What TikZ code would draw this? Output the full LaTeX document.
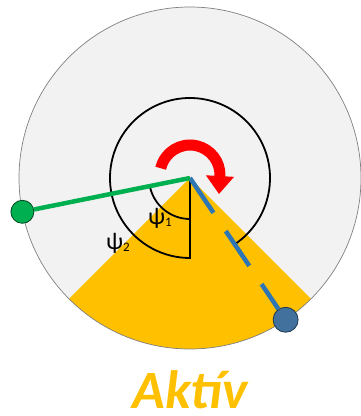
\documentclass[tikz,border=0pt]{standalone}
\usepackage{fontspec}
\setmainfont{Carlito}
\usepackage{tikz}
\usetikzlibrary{arrows.meta}
\usetikzlibrary{calc}
\definecolor{color1}{HTML}{F2F2F2}
\definecolor{color2}{HTML}{FFC000}
\definecolor{color3}{HTML}{00B050}
\definecolor{color4}{HTML}{2E75B6}
\definecolor{color5}{HTML}{41719C}
\definecolor{color6}{HTML}{FF0000}
\newlength{\DialFigureUnit}
\setlength{\DialFigureUnit}{1pt}
\newcommand{\DialAngleFont}{\fontsize{24pt}{27pt}\selectfont}
\newcommand{\DialIndexFont}{\fontsize{13pt}{15pt}\selectfont}
\newcommand{\DialTitleFont}{\fontsize{54pt}{62pt}\selectfont}
\tikzset{
  dial disc/.style={draw=black!50, fill=color1, line width=0.7pt},
  dial sector/.style={fill=color2, draw=none},
  dial angle/.style={draw=black, line width=1.8pt},
  green arm/.style={draw=color3, line width=4.5pt},
  blue arm/.style={draw=color4, line width=4.5pt, dash pattern=on 42pt off 22pt},
  green knob/.style={circle, fill=color3, draw=black!60!color3,
    line width=0.8pt, minimum size=23pt, inner sep=0pt},
  blue knob/.style={circle, fill=color5, draw=black!50!color5,
    line width=0.8pt, minimum size=25pt, inner sep=0pt},
  turn arrow/.style={draw=color6, line width=11pt,
    -{Triangle[width=27pt,length=18pt]}}
}

\begin{document}
\begin{tikzpicture}[x=\DialFigureUnit,y=\DialFigureUnit]
    \useasboundingbox (0,0) rectangle (360,416);
    \coordinate (dial-centre) at (190,238);
    % disc and active sector
    \fill[color1] (dial-centre) circle[radius=171];
    \fill[dial sector] (dial-centre) -- ++(225:171)
        arc[start angle=225, end angle=315, radius=171] -- cycle;
    \draw[dial disc, fill=none] (dial-centre) circle[radius=171];

    \node[green knob] (green-knob) at ($(dial-centre)+(191.4:171)$) {};
    \node[blue knob] (blue-knob) at ($(dial-centre)+(-56:171)$) {};

    % angle marks
    \draw[dial angle] ($(dial-centre)+(-56:80)$)
        arc[start angle=-56, end angle=270, radius=80] -- (dial-centre);
    \draw[dial angle] ($(dial-centre)+(191.4:41)$)
        arc[start angle=191.4, end angle=270, radius=41];

    \draw[blue arm] (dial-centre) -- (blue-knob);
    \draw[green arm] (dial-centre) -- (green-knob);

    \node[font=\DialAngleFont, inner sep=0pt] (psi-one) at (160,198)
        {ψ\raisebox{-2pt}{\DialIndexFont 1}};
    \node[font=\DialAngleFont, inner sep=0pt] (psi-two) at (118,173)
        {ψ\raisebox{-2pt}{\DialIndexFont 2}};

    % rotation
    \coordinate (turn-centre) at (190,241);
    \draw[turn arrow] ($(turn-centre)+(167:30)$)
        arc[start angle=167, end angle=-2, radius=30] -- ++(-1,-18);

    \node[font=\DialTitleFont\bfseries\itshape, text=color2, anchor=base,
        inner sep=0pt] (dial-title) at (190,7) {Aktív};
\end{tikzpicture}
\end{document}
